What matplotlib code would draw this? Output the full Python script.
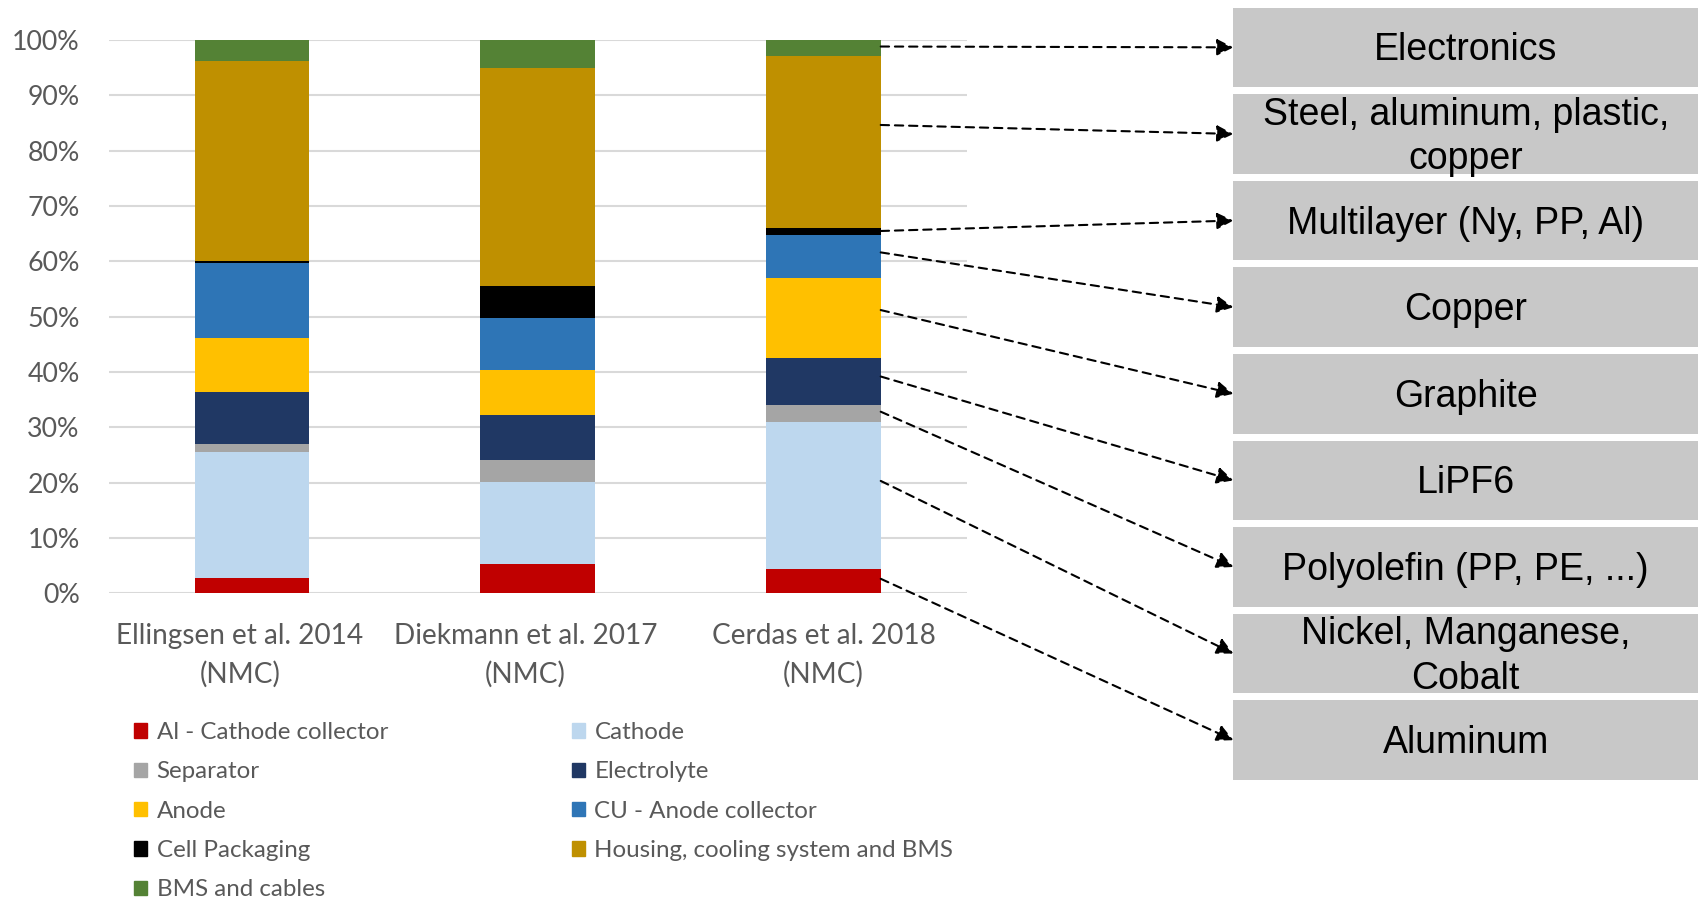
import matplotlib
matplotlib.use("Agg")
import matplotlib.pyplot as plt
from matplotlib.patches import Patch, Rectangle
from matplotlib.transforms import ScaledTranslation

plt.rcParams['font.family'] = ['Lato', 'DejaVu Sans']

# studies compared (one stacked bar each)
studies = ["Ellingsen et al. 2014\n(NMC)", "Diekmann et al. 2017\n(NMC)", "Cerdas et al. 2018\n(NMC)"]

# component shares in % of battery mass, bottom to top
components = ["Al - Cathode collector", "Cathode", "Separator", "Electrolyte", "Anode",
              "CU - Anode collector", "Cell Packaging", "Housing, cooling system and BMS",
              "BMS and cables"]
ellingsen = [2.8, 22.8, 1.35, 9.5, 9.75, 13.5, 0.4, 36.2, 3.7]
diekmann = [5.3, 14.9, 3.9, 8.1, 8.25, 9.25, 5.9, 39.3, 5.1]
cerdas = [4.4, 26.55, 3.15, 8.5, 14.35, 7.8, 1.25, 31.1, 2.9]

colors = ["#C00000", "#BDD7EE", "#A5A5A5", "#203864", "#FFC000",
          "#2E75B6", "#000000", "#BF9000", "#548235"]

# materials behind each component (top to bottom on the right)
materials = ["Electronics", "Steel, aluminum, plastic,\ncopper", "Multilayer (Ny, PP, Al)",
             "Copper", "Graphite", "LiPF6", "Polyolefin (PP, PE, ...)",
             "Nickel, Manganese,\nCobalt", "Aluminum"]
# component index (in the Cerdas bar) that each material box points from
material_src = [8, 7, 6, 5, 4, 3, 2, 1, 0]

W, H = 1698, 900
fig = plt.figure(figsize=(W / 100, H / 100), dpi=100)
ax = fig.add_axes([108.8 / W, 1 - 593.4 / H, 857.7 / W, 553.3 / H])

data = [ellingsen, diekmann, cerdas]
x = range(len(studies))
bottoms = [0.0] * len(studies)
for i, comp in enumerate(components):
    vals = [d[i] for d in data]
    ax.bar(x, vals, width=0.4, bottom=bottoms, color=colors[i], label=comp, zorder=3)
    bottoms = [b + v for b, v in zip(bottoms, vals)]

ax.set_xlim(-0.5, 2.5)
ax.set_ylim(0, 100)
ax.set_yticks(range(0, 101, 10))
ax.set_yticklabels([f"{v}%" for v in range(0, 101, 10)])
ax.set_xticks(list(x))
ax.set_xticklabels(studies, linespacing=1.58)
ax.tick_params(axis='y', length=0, pad=21, labelsize=19.3, labelcolor="#595959")
ax.tick_params(axis='x', length=0, pad=21, labelsize=20.2, labelcolor="#595959")
# the first two category labels sit slightly left of their bars
for lbl in ax.get_xticklabels()[:2]:
    lbl.set_transform(lbl.get_transform() + ScaledTranslation(-12 / 100, 0, fig.dpi_scale_trans))
ax.yaxis.grid(True, color="#D9D9D9", lw=1.5, zorder=0)
for s in ax.spines.values():
    s.set_visible(False)

# legend in Excel row order, two columns
order = [0, 2, 4, 6, 8, 1, 3, 5, 7]
handles = [Patch(color=colors[i]) for i in order]
labels = [components[i] for i in order]
fig.legend(handles, labels, loc='upper left', bbox_to_anchor=(134 / W, 1 - 722 / H),
           ncol=2, frameon=False, fontsize=17.4, labelcolor="#595959",
           handlelength=0.54, handleheight=0.54, handletextpad=0.4,
           labelspacing=0.76, columnspacing=7.6, borderpad=0, borderaxespad=0)

# material boxes on the right with dashed arrows from the Cerdas bar
ov = fig.add_axes([0, 0, 1, 1])
ov.set_xlim(0, W)
ov.set_ylim(H, 0)
ov.axis('off')
ov.patch.set_visible(False)

box_left, box_h, step, top0 = 1233.4, 79.5, 86.6, 7.6
cum = [sum(cerdas[:i]) for i in range(len(cerdas) + 1)]
for k, (name, src) in enumerate(zip(materials, material_src)):
    top = top0 + k * step
    ov.add_patch(Rectangle((box_left, top), W - box_left, box_h, facecolor="#C8C8C8",
                           edgecolor='none'))
    cy = top + box_h / 2
    ov.text((box_left + W) / 2, cy + 3, name, ha='center', va='center', fontsize=27,
            family=['Liberation Sans', 'DejaVu Sans'], color='black', linespacing=1.3)
    # arrows leave the bar a little above the middle of each segment
    y_start = cum[src] + 0.6 * (cum[src + 1] - cum[src])
    ov.annotate('', xy=(box_left, cy), xycoords='data',
                xytext=(2.2, y_start), textcoords=ax.transData,
                arrowprops=dict(arrowstyle='-|>,head_length=0.5,head_width=0.25',
                                linestyle=(0, (4, 2.8)), lw=1.5, color='black',
                                shrinkA=0, shrinkB=0, mutation_scale=20))

fig.savefig("out.png", dpi=100)
